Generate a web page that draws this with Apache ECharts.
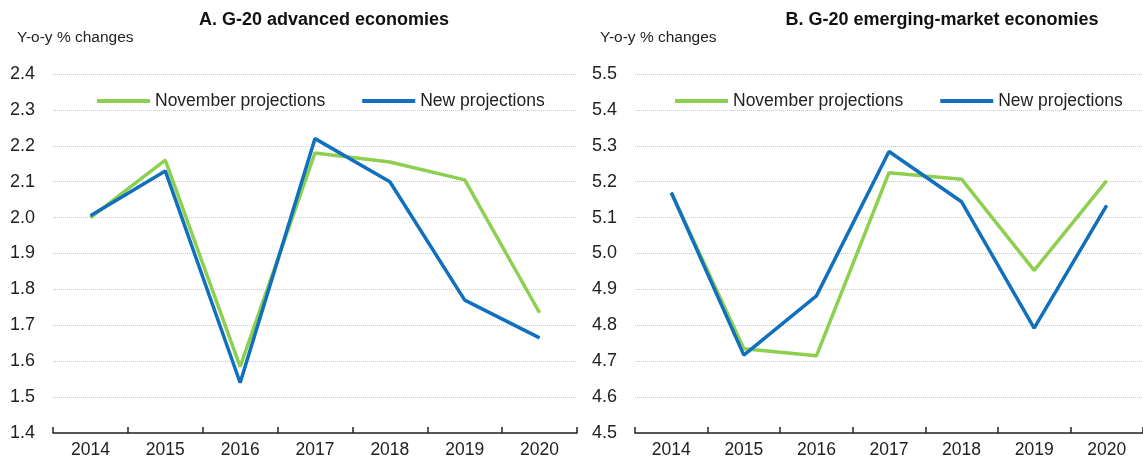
<!DOCTYPE html>
<html>
<head>
<meta charset="utf-8">
<script src="https://cdn.jsdelivr.net/npm/echarts@6/dist/echarts.min.js"></script>
<style>
  html, body { margin: 0; padding: 0; background: #fff; }
  #chart { width: 1143px; height: 459px; }
</style>
</head>
<body>
<div id="chart"></div>
<script>
// years on the x axis
const years = ['2014', '2015', '2016', '2017', '2018', '2019', '2020'];

// Panel A: G-20 advanced economies
const advNovember = [2.00, 2.16, 1.585, 2.18, 2.155, 2.105, 1.735];
const advNew = [2.005, 2.13, 1.54, 2.22, 2.10, 1.77, 1.665];

// Panel B: G-20 emerging-market economies
const emeNovember = [5.17, 4.735, 4.715, 5.225, 5.207, 4.953, 5.203];
const emeNew = [5.17, 4.717, 4.882, 5.284, 5.144, 4.792, 5.134];

const names = ['November projections', 'New projections'];
const GREEN = '#8DCF4F';
const BLUE = '#1070BD';
const FONT = '"Liberation Sans", Arial, sans-serif';

const myChart = echarts.init(document.getElementById('chart'));

function xAxisFor(gridIndex) {
    return {
        type: 'category',
        gridIndex: gridIndex,
        data: years,
        boundaryGap: true,
        axisLine: { lineStyle: { color: '#222', width: 1.5 } },
        axisTick: { show: true, interval: 0, inside: true, length: 6, lineStyle: { color: '#222', width: 1.5 } },
        axisLabel: { color: '#222', fontSize: 17.5, fontFamily: FONT, margin: 8, interval: 0 }
    };
}

function yAxisFor(gridIndex, min, max) {
    return {
        type: 'value',
        gridIndex: gridIndex,
        min: min,
        max: max,
        interval: 0.1,
        axisLine: { show: false },
        axisTick: { show: false },
        splitLine: { lineStyle: { color: '#c8c8c8', type: 'dotted', width: 1 } },
        axisLabel: {
            color: '#222',
            fontSize: 18,
            fontFamily: FONT,
            margin: 18,
            formatter: v => v.toFixed(1)
        }
    };
}

function lineSeries(name, data, color, idx) {
    return {
        name: name,
        type: 'line',
        xAxisIndex: idx,
        yAxisIndex: idx,
        data: data,
        symbol: 'none',
        lineStyle: { color: color, width: 3.5 },
        itemStyle: { color: color },
        animation: false
    };
}

function legendAt(left) {
    return {
        data: names,
        left: left,
        top: 87,
        icon: 'rect',
        itemWidth: 53,
        itemHeight: 4,
        itemGap: 37,
        textStyle: { color: '#222', fontSize: 17.5, fontFamily: FONT }
    };
}

const option = {
    backgroundColor: '#fff',
    title: [
        { text: 'A. G-20 advanced economies', left: 319, top: 6, textAlign: 'center',
          textStyle: { fontSize: 18, fontWeight: 'bold', color: '#111', fontFamily: FONT } },
        { text: 'B. G-20 emerging-market economies', left: 937, top: 6, textAlign: 'center',
          textStyle: { fontSize: 18, fontWeight: 'bold', color: '#111', fontFamily: FONT } },
        { text: 'Y-o-y % changes', left: 12, top: 25,
          textStyle: { fontSize: 15.5, fontWeight: 'normal', color: '#222', fontFamily: FONT } },
        { text: 'Y-o-y % changes', left: 595, top: 25,
          textStyle: { fontSize: 15.5, fontWeight: 'normal', color: '#222', fontFamily: FONT } }
    ],
    legend: [legendAt(92), legendAt(670)],
    grid: [
        { left: 53, right: 566, top: 74, bottom: 26 },
        { left: 635, right: -11, top: 74, bottom: 26 }
    ],
    xAxis: [xAxisFor(0), xAxisFor(1)],
    yAxis: [yAxisFor(0, 1.4, 2.4), yAxisFor(1, 4.5, 5.5)],
    series: [
        lineSeries(names[0], advNovember, GREEN, 0),
        lineSeries(names[1], advNew, BLUE, 0),
        lineSeries(names[0], emeNovember, GREEN, 1),
        lineSeries(names[1], emeNew, BLUE, 1)
    ]
};

myChart.setOption(option);

window.addEventListener('resize', function () {
    myChart.resize();
});
</script>
</body>
</html>
